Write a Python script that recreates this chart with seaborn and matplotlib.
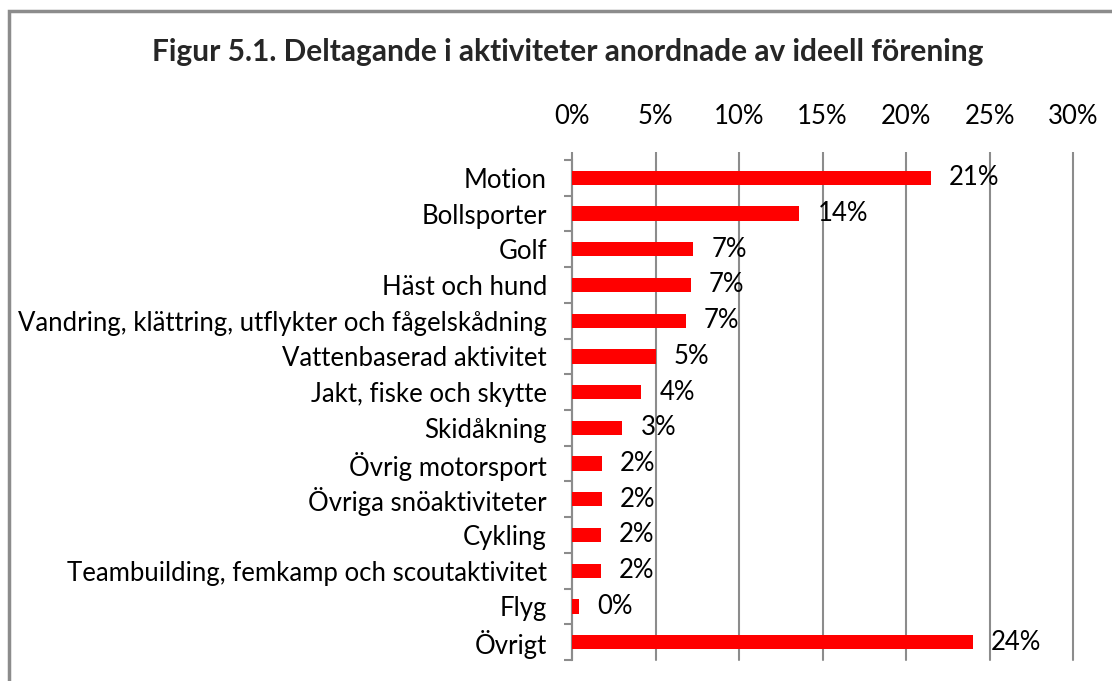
import matplotlib.pyplot as plt
import seaborn as sns
import pandas as pd
from matplotlib.patches import Rectangle
from matplotlib.ticker import PercentFormatter

# data (percent)
activities = ['Motion', 'Bollsporter', 'Golf', 'Häst och hund',
              'Vandring, klättring, utflykter och fågelskådning',
              'Vattenbaserad aktivitet', 'Jakt, fiske och skytte', 'Skidåkning',
              'Övrig motorsport', 'Övriga snöaktiviteter', 'Cykling',
              'Teambuilding, femkamp och scoutaktivitet', 'Flyg', 'Övrigt']
shares = [21.47, 13.62, 7.26, 7.10, 6.80, 5.00, 4.16, 3.02, 1.80, 1.80, 1.72, 1.72, 0.44, 24.0]
x_ticks = [0, 5, 10, 15, 20, 25, 30]
title = 'Figur 5.1. Deltagande i aktiviteter anordnade av ideell förening'

sns.set_theme(style='white')
plt.rcParams['font.family'] = ['Lato', 'DejaVu Sans']

df = pd.DataFrame({'Aktivitet': activities, 'Andel': shares})

W, H = 1112, 681
fig = plt.figure(figsize=(W / 100, H / 100), dpi=100)
ax = fig.add_axes([572 / W, 21 / H, 501 / W, 500 / H])

sns.barplot(data=df, x='Andel', y='Aktivitet', orient='h', color='#ff0000',
            saturation=1, width=0.4, linewidth=0, ax=ax, zorder=3)

grey = '#8c8c8c'
fs = 18.5
ax.set_xlim(0, 30)
ax.set_xticks(x_ticks)
ax.xaxis.set_major_formatter(PercentFormatter(decimals=0))
ax.xaxis.tick_top()
ax.grid(axis='x', color=grey, lw=1.5, zorder=0)
ax.grid(axis='y', visible=False)
for gl in ax.get_xgridlines():
    gl.set_clip_on(False)
ax.tick_params(axis='x', top=True, length=6, width=1.5, color=grey,
               labelsize=fs, pad=16, labelcolor='black')
ax.set_xlabel('')
ax.set_ylabel('')

# y ticks between the categories
ax.set_yticks([i - 0.5 for i in range(len(activities) + 1)], minor=True)
ax.tick_params(axis='y', which='major', length=0, labelsize=fs, pad=18, labelcolor='black')
ax.tick_params(axis='y', which='minor', left=True, length=6, width=1.5, color=grey)

for s in ['top', 'right', 'bottom']:
    ax.spines[s].set_visible(False)
ax.spines['left'].set_color(grey)
ax.spines['left'].set_linewidth(1.5)

ax.bar_label(ax.containers[0], labels=[f'{round(v)}%' for v in shares],
             padding=13, fontsize=fs, color='black')

fig.text(568 / W, 1 - 52 / H, title, ha='center', va='center',
         fontsize=21.5, fontweight='bold')

fig.patches.append(Rectangle((9 / W, -0.1), 1.2, 1.1 - 11 / H, transform=fig.transFigure,
                             fill=False, edgecolor=grey, lw=2.5))

fig.savefig('out.png', dpi=100)
